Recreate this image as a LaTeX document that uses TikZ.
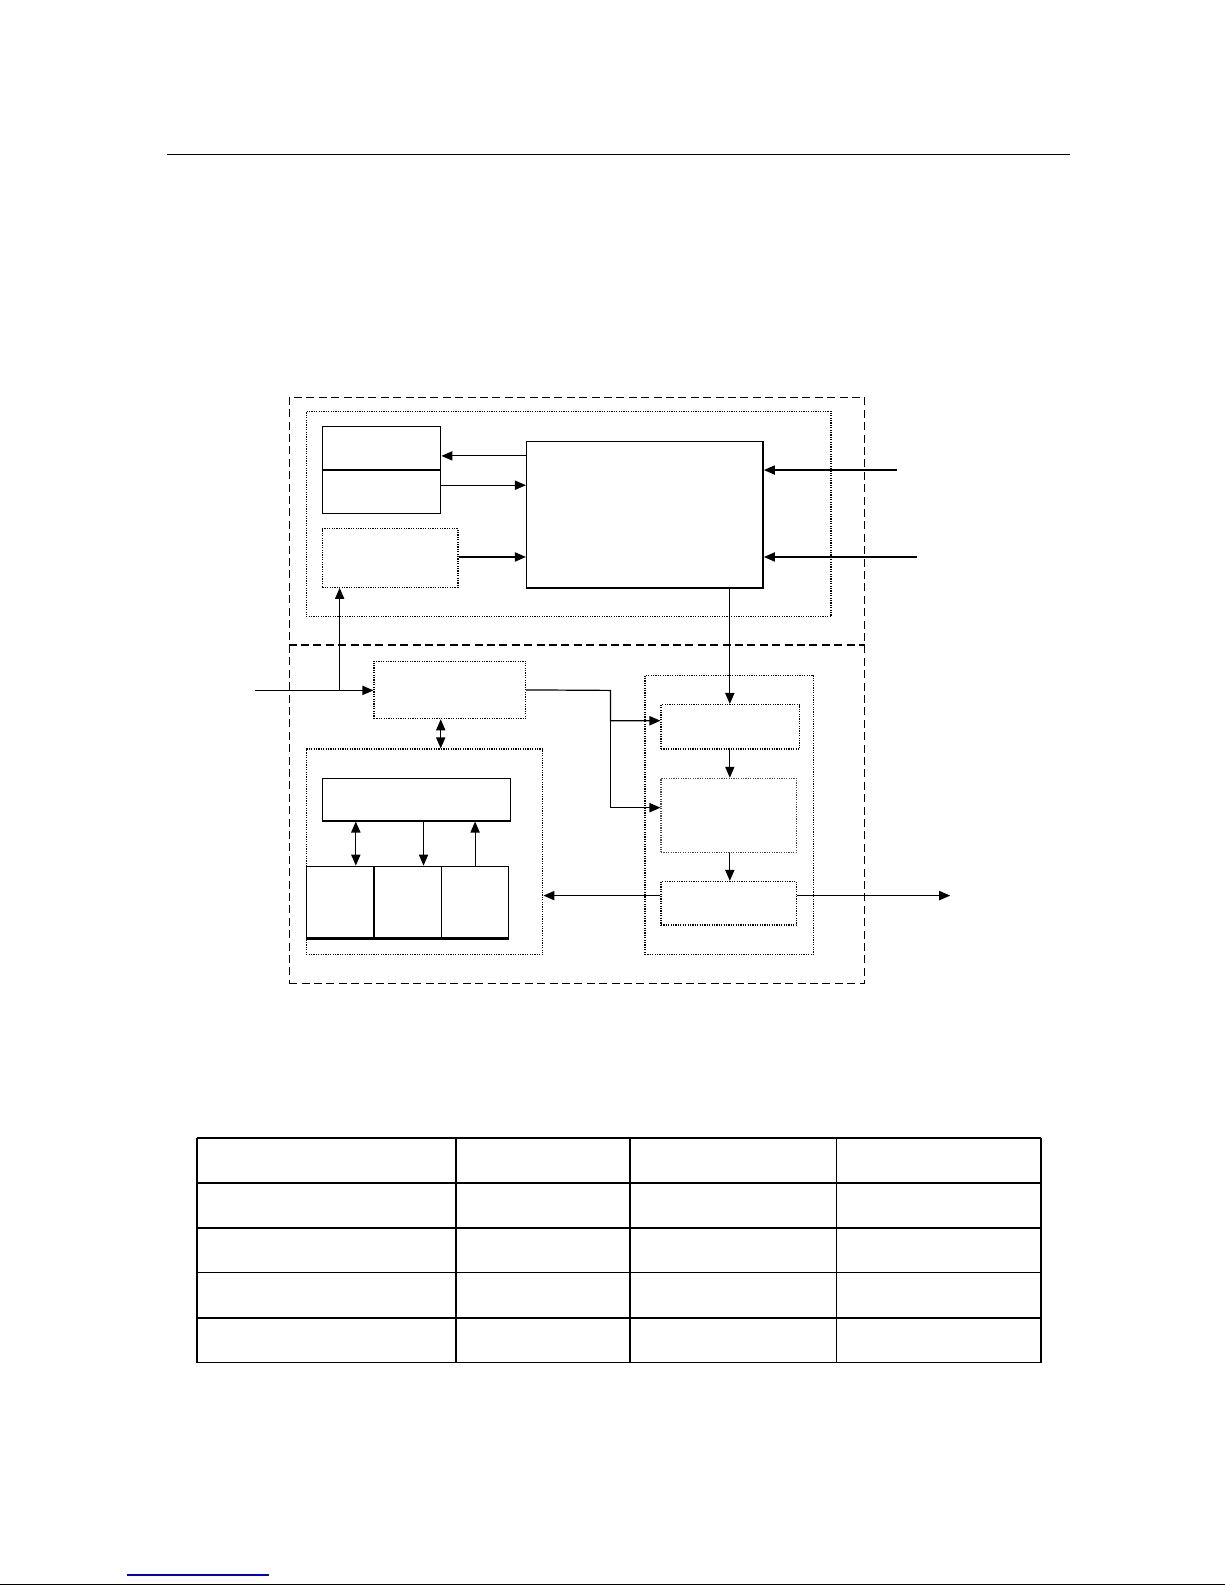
\documentclass[tikz,border=0pt]{standalone}
\usetikzlibrary{arrows.meta,fit}
\begin{document}
\begin{tikzpicture}[x=0.50536pt,y=-0.50536pt,
  line width=0.6pt,
  solidbox/.style={draw,inner sep=0pt,line width=0.7pt},
  dotbox/.style={draw,inner sep=0pt,dash pattern=on 0.6pt off 0.6pt,line width=0.6pt},
  dashbox/.style={draw,inner sep=0pt,dash pattern=on 4pt off 2.2pt,line width=0.6pt},
  arr/.style={-{Triangle[length=5.5pt,width=4.6pt]}},
  darr/.style={{Triangle[length=5.5pt,width=4.6pt]}-{Triangle[length=5.5pt,width=4.6pt]}}]
\useasboundingbox (0,0) rectangle (1212,1568);
\fill[white] (0,0) rectangle (1212,1568);
% top rule
\draw[line width=0.8pt] (165,153) -- (1059,153);
% outer dashed frame
\node[dashbox, fit={(286,393) (855,973)}] (outer) {};
\draw[dash pattern=on 4pt off 2.2pt, line width=0.6pt] (outer.west |- 0,638) -- (outer.east |- 0,638);
% upper section
\node[dotbox, fit={(303,407) (822,610)}] (upper) {};
\node[solidbox, fit={(319,422) (436,508)}] (split) {};
\draw[line width=0.6pt] (split.west |- 0,465) -- (split.east |- 0,465);
\node[dotbox, fit={(319,523) (453,581)}] (small) {};
\node[solidbox, fit={(521,437) (755,581)}] (big) {};
\draw[line width=1.2pt] (big.south west) -- (big.south east);
\draw[arr] (big.west |- 0,451) -- (split.east |- 0,451);
\draw[arr] (split.east |- 0,480) -- (big.west |- 0,480);
\draw[arr] (small.east |- 0,551) -- (big.west |- 0,551);
\coordinate (inA) at (887,465);
\coordinate (inB) at (907,551);
\draw[arr] (inA) -- (big.east |- inA);
\draw[arr] (inB) -- (big.east |- inB);
% lower section
\node[dotbox, fit={(370,654) (520,711)}] (mid) {};
\node[dotbox, fit={(303,741) (537,944)}] (ll) {};
\node[solidbox, fit={(319,770) (505,812)}] (ctrl) {};
\node[solidbox, fit={(303,857) (370,928)}] (c1) {};
\node[solidbox, fit={(370,857) (437,928)}] (c2) {};
\node[solidbox, fit={(437,857) (503,928)}] (c3) {};
\draw[line width=1.2pt] (c1.south west) -- (c3.south east);
\node[dotbox, fit={(638,668) (805,944)}] (rcol) {};
\node[dotbox, fit={(654,697) (791,741)}] (r1) {};
\node[dotbox, draw=black!70, fit={(654,770) (788,843)}] (r2) {};
\node[dotbox, fit={(654,872) (788,915)}] (r3) {};
% connectors lower
\coordinate (in) at (252,683);
\coordinate (br) at (336,683);
\draw[arr] (in) -- (mid.west |- in);
\draw[arr] (br) -- (small.south -| br);
\draw[darr] (mid.south -| 436,0) -- (ll.north -| 436,0);
\draw[darr] (ctrl.south -| 352,0) -- (c1.north -| 352,0);
\draw[arr] (ctrl.south -| 419,0) -- (c2.north -| 419,0);
\draw[arr] (c3.north -| 470,0) -- (ctrl.south -| 470,0);
\draw[arr] (big.south -| 722,0) -- (r1.north -| 722,0);
\draw[arr] (r1.south -| 722,0) -- (r2.north -| 722,0);
\draw[arr] (r2.south -| 722,0) -- (r3.north -| 722,0);
\draw[arr] (mid.east) -- (604,683) -- (604,713) -- (r1.west |- 0,713);
\draw[arr] (604,713) -- (604,799) -- (r2.west |- 0,799);
\draw[arr] (r3.west |- 0,886) -- (ll.east |- 0,886);
\coordinate (out) at (940,886);
\draw[arr] (r3.east |- out) -- (out);
% table
\foreach \yy in {1126,1170,1215,1259,1304,1348}
  \draw[line width=0.8pt] (195,\yy) -- (1030,\yy);
\foreach \xx in {195,451,623,1030}
  \draw[line width=0.8pt] (\xx,1126) -- (\xx,1348);
\draw[line width=0.5pt] (828,1126) -- (828,1348);
% bottom
\draw[blue!80!black, line width=0.8pt] (126,1558) -- (266,1558);
\draw[line width=0.6pt] (0,1567.4) -- (1212,1567.4);
\end{tikzpicture}
\end{document}
